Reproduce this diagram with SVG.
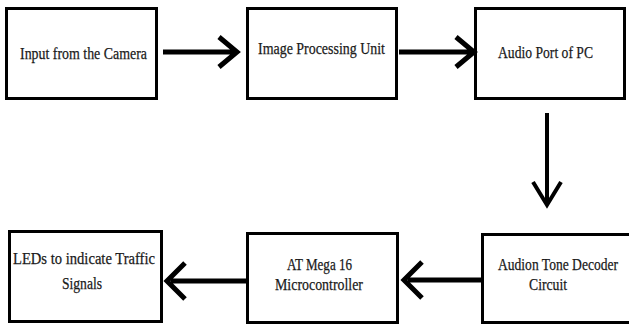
<svg xmlns="http://www.w3.org/2000/svg" width="629" height="325" viewBox="0 0 629 325">
<style>
.box{fill:#fff;stroke:#000;stroke-width:3}
.t{font-family:"Liberation Serif",serif;font-size:16.5px;fill:#1a1a1a;stroke:#1a1a1a;stroke-width:0.25}
.c{fill:none;stroke:#000;stroke-width:5;stroke-linecap:butt;stroke-linejoin:miter}
.cv{fill:none;stroke:#000;stroke-width:4;stroke-linejoin:miter}
</style>
<rect width="629" height="325" fill="#fff"/>
<g id="n1"><rect class="box" x="6.5" y="8.5" width="150" height="90"/><text class="t" x="20" y="59" textLength="127" lengthAdjust="spacingAndGlyphs">Input from the Camera</text></g>
<g id="n2"><rect class="box" x="247.5" y="8.5" width="149" height="90"/><text class="t" x="258" y="54" textLength="127" lengthAdjust="spacingAndGlyphs">Image Processing Unit</text></g>
<g id="n3"><rect class="box" x="475.5" y="8.5" width="149" height="90"/><text class="t" x="498" y="58" textLength="95" lengthAdjust="spacingAndGlyphs">Audio Port of PC</text></g>
<g id="n4"><path class="box" d="M629 234.5H482.5V322.5H629"/><text class="t" x="498" y="270" textLength="120" lengthAdjust="spacingAndGlyphs">Audion Tone Decoder</text><text class="t" x="529" y="290" textLength="38" lengthAdjust="spacingAndGlyphs">Circuit</text></g>
<g id="n5"><rect class="box" x="247.5" y="233.5" width="150" height="89"/><text class="t" x="287" y="270" textLength="65" lengthAdjust="spacingAndGlyphs">AT Mega 16</text><text class="t" x="275" y="290" textLength="88" lengthAdjust="spacingAndGlyphs">Microcontroller</text></g>
<g id="n6"><rect class="box" x="9.5" y="231.5" width="152" height="90"/><text class="t" x="13" y="264" textLength="142" lengthAdjust="spacingAndGlyphs">LEDs to indicate Traffic</text><text class="t" x="62" y="289" textLength="40" lengthAdjust="spacingAndGlyphs">Signals</text></g>
<g id="connectors">
<path class="c" d="M163 52H234M219 37L237 52L219 67"/>
<path class="c" d="M399 52H471M456 37L474 52L456 67"/>
<path class="cv" d="M547 113V203M533 182L547 205L561 182"/>
<path class="c" d="M481 280H408M422 262L404 280L422 298"/>
<path class="c" d="M246 281H171M185 263L167 281L185 299"/>
</g>
</svg>
